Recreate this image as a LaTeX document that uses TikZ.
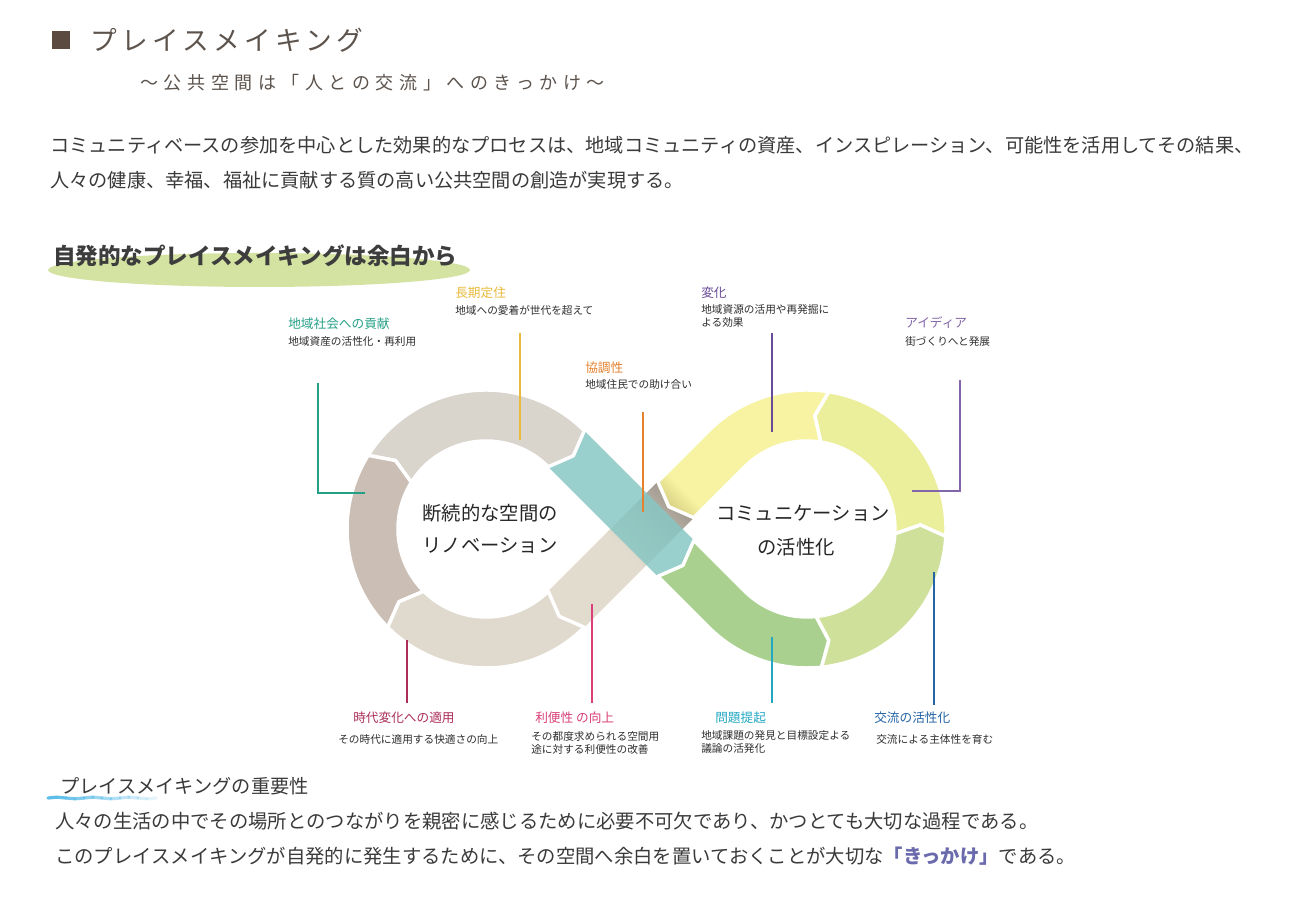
\documentclass[tikz,border=0pt]{standalone}
\usepackage{fontspec}
\setmainfont{Noto Sans CJK JP}
\usetikzlibrary{calc}

% ring geometry (px)
\newcommand{\rOut}{139}
\newcommand{\rIn}{88}
\newcommand{\rMid}{113.5}
\newcommand{\hw}{25.5}
\newcommand{\chev}{10}
\newcommand{\dA}{5.1}

\definecolor{ttlgray}{HTML}{5C534D}
\definecolor{sqbrown}{HTML}{5B4A40}
\definecolor{txtgray}{HTML}{3A3A3A}
\definecolor{subgray}{HTML}{2E2E2E}
\definecolor{headgray}{HTML}{3D3D3D}
\definecolor{ovalgreen}{HTML}{D4E2A2}
\definecolor{ringtop}{HTML}{D9D4CC}
\definecolor{ringleft}{HTML}{CBBFB5}
\definecolor{ringbot}{HTML}{E0DACE}
\definecolor{beige}{HTML}{E2DCCF}
\definecolor{beigedark}{HTML}{9E968C}
\definecolor{bandteal}{HTML}{86C6C3}
\definecolor{bandgreen}{HTML}{A9D08E}
\definecolor{ringlgreen}{HTML}{CFE09A}
\definecolor{ringygreen}{HTML}{EBEE9A}
\definecolor{bandyellow}{HTML}{F7F3A2}
\definecolor{yellowdark}{HTML}{CDC378}
\definecolor{wave}{HTML}{5BBDE8}
\definecolor{kikkake}{HTML}{6A6AAD}
\definecolor{ck1}{HTML}{24A086}
\definecolor{ck2}{HTML}{E8BB3C}
\definecolor{ck3}{HTML}{E6822E}
\definecolor{ck4}{HTML}{6A4B98}
\definecolor{ck5}{HTML}{8266AA}
\definecolor{ck6}{HTML}{AB2E5A}
\definecolor{ck7}{HTML}{DA3F78}
\definecolor{ck8}{HTML}{22A8C2}
\definecolor{ck9}{HTML}{2564A6}

\pgfdeclareverticalshading{beigeshade}{100bp}{color(0bp)=(beige); color(52bp)=(beige); color(78bp)=(beigedark); color(100bp)=(beigedark)}
\pgfdeclareverticalshading{yellowshade}{100bp}{color(0bp)=(yellowdark); color(17bp)=(yellowdark); color(27bp)=(bandyellow); color(100bp)=(bandyellow)}

\begin{document}
\begin{tikzpicture}[x=0.75pt,y=0.75pt,
    seg/.style={draw=white, line width=2.6pt, line join=round},
    ttl/.style={anchor=west, inner sep=0pt, font=\fontsize{9.5}{11}\selectfont},
    subtxt/.style={anchor=west, inner sep=0pt, align=left, text=subgray, font=\fontsize{8}{10}\selectfont},
    lead/.style={line width=1.5pt},
    body/.style={anchor=west, inner sep=0pt, text=txtgray, font=\fontsize{14.4}{17}\selectfont},
    ctr/.style={inner sep=0pt, text=black!85, font=\fontsize{14.5}{17}\selectfont}]

\useasboundingbox (0,0) rectangle (1300,924);
\fill[white] (0,0) rectangle (1300,924);

% title block
\fill[sqbrown] (52,875) rectangle (70,893);
\node[anchor=west, inner sep=0pt, text=ttlgray, font=\fontsize{20}{24}\selectfont\addfontfeature{LetterSpace=16}] (title) at (90,884) {プレイスメイキング};
\node[anchor=west, inner sep=0pt, text=ttlgray, font=\fontsize{13.5}{16}\selectfont\addfontfeature{LetterSpace=31}] (subtitle) at (140,841) {〜公共空間は「人との交流」へのきっかけ〜};

\node[body] (para1) at (50,779) {コミュニティベースの参加を中心とした効果的なプロセスは、地域コミュニティの資産、インスピレーション、可能性を活用してその結果、};
\node[body] (para2) at (50,744) {人々の健康、幸福、福祉に貢献する質の高い公共空間の創造が実現する。};

% heading on green oval
\fill[ovalgreen] (259,654) ellipse [x radius=211, y radius=17];
\node[anchor=west, inner sep=0pt, text=headgray, font=\fontsize{16.9}{20}\selectfont\bfseries] (head) at (53,668) {自発的なプレイスメイキングは余白から};

% infinity loop
\coordinate (L) at (486,395);
\coordinate (R) at (807,395);
\coordinate (P0) at ($(L)+(45:\rMid)$);
\coordinate (Q0) at ($(L)+(-45:\rMid)$);
\coordinate (J) at ($(Q0)+(45:155)$);
\coordinate (K) at ($(P0)+(-45:155)$);

\shade[shading=beigeshade, shading angle=-45]
  ($(Q0)+(-45:\hw)$) -- ($(Q0)+(225:\chev)$) -- ($(Q0)+(135:\hw)$)
  -- ($(J)+(135:\hw)$) -- ($(J)+(225:\chev)$) -- ($(J)+(-45:\hw)$) -- cycle;
\fill[bandteal, fill opacity=0.84]
  ($(P0)+(45:\hw)$) -- ($(K)+(45:\hw)$) -- ($(K)+(-45:\chev)$)
  -- ($(K)+(225:\hw)$) -- ($(P0)+(225:\hw)$) -- ($(P0)+(-45:\chev)$) -- cycle;

\fill[ringtop, seg] ($(L)+(148:\rOut)$) arc[start angle=148, end angle=45, radius=\rOut]
  -- ($(P0)+(-45:\chev)$) -- ($(L)+(45:\rIn)$) arc[start angle=45, end angle=148, radius=\rIn]
  -- ($(L)+(148-\dA:\rMid)$) -- cycle;
\fill[ringleft, seg] ($(L)+(225:\rOut)$) arc[start angle=225, end angle=148, radius=\rOut]
  -- ($(L)+(148-\dA:\rMid)$) -- ($(L)+(148:\rIn)$) arc[start angle=148, end angle=225, radius=\rIn]
  -- ($(L)+(225-\dA:\rMid)$) -- cycle;
\fill[ringbot, seg] ($(L)+(315:\rOut)$) arc[start angle=315, end angle=225, radius=\rOut]
  -- ($(L)+(225-\dA:\rMid)$) -- ($(L)+(225:\rIn)$) arc[start angle=225, end angle=315, radius=\rIn]
  -- ($(Q0)+(225:\chev)$) -- cycle;

\fill[bandgreen, seg] ($(K)+(225:\hw)$) -- ($(R)+(225:\rOut)$) arc[start angle=225, end angle=276, radius=\rOut]
  -- ($(R)+(276+\dA:\rMid)$) -- ($(R)+(276:\rIn)$) arc[start angle=276, end angle=225, radius=\rIn]
  -- ($(K)+(45:\hw)$) -- ($(K)+(-45:\chev)$) -- cycle;
\fill[ringlgreen, seg] ($(R)+(276:\rOut)$) arc[start angle=276, end angle=357, radius=\rOut]
  -- ($(R)+(357+\dA:\rMid)$) -- ($(R)+(357:\rIn)$) arc[start angle=357, end angle=276, radius=\rIn]
  -- ($(R)+(276+\dA:\rMid)$) -- cycle;
\fill[ringygreen, seg] ($(R)+(357:\rOut)$) arc[start angle=357, end angle=441, radius=\rOut]
  -- ($(R)+(441+\dA:\rMid)$) -- ($(R)+(441:\rIn)$) arc[start angle=441, end angle=357, radius=\rIn]
  -- ($(R)+(357+\dA:\rMid)$) -- cycle;
\shade[shading=yellowshade, shading angle=-45, seg] ($(R)+(81:\rOut)$) arc[start angle=81, end angle=135, radius=\rOut]
  -- ($(J)+(135:\hw)$) -- ($(J)+(225:\chev)$) -- ($(J)+(-45:\hw)$)
  -- ($(R)+(135:\rIn)$) arc[start angle=135, end angle=81, radius=\rIn]
  -- ($(R)+(81+\dA:\rMid)$) -- cycle;

\node[ctr] (lt1) at (490,411) {断続的な空間の};
\node[ctr] (lt2) at (490,378) {リノベーション};
\node[ctr] (rt1) at (803,411) {コミュニケーション};
\node[ctr] (rt2) at (796,377) {の活性化};

% callouts, upper row
\node[ttl, text=ck1] (t1) at (288,600) {地域社会への貢献};
\node[subtxt] (s1) at (288,583) {地域資産の活性化・再利用};
\coordinate (k1) at (318,541); \coordinate (k1e) at (365,431);
\draw[lead, ck1] (k1) |- (k1e);

\node[ttl, text=ck2] (t2) at (455,631) {長期定住};
\node[subtxt] (s2) at (455,614) {地域への愛着が世代を超えて};
\coordinate (k2) at (520,591); \coordinate (k2e) at (520,484);
\draw[lead, ck2] (k2) -- (k2e);

\node[ttl, text=ck3] (t3) at (585,556) {協調性};
\node[subtxt] (s3) at (585,540) {地域住民での助け合い};
\coordinate (k3) at (643,512); \coordinate (k3e) at (643,412);
\draw[lead, ck3] (k3) -- (k3e);

\node[ttl, text=ck4] (t4) at (701,631) {変化};
\node[subtxt] (s4) at (701,608) {地域資源の活用や再発掘に\\よる効果};
\coordinate (k4) at (772,591); \coordinate (k4e) at (772,492);
\draw[lead, ck4] (k4) -- (k4e);

\node[ttl, text=ck5] (t5) at (905,601) {アイディア};
\node[subtxt] (s5) at (905,583) {街づくりへと発展};
\coordinate (k5) at (960,544); \coordinate (k5e) at (912,433);
\draw[lead, ck5] (k5) |- (k5e);

% callouts, lower row
\node[ttl, text=ck6] (t6) at (353,206) {時代変化への適用};
\node[subtxt] (s6) at (338,185) {その時代に適用する快適さの向上};
\coordinate (k6) at (407,284); \coordinate (k6e) at (407,221);
\draw[lead, ck6] (k6) -- (k6e);

\node[ttl, text=ck7] (t7) at (535,206) {利便性 の向上};
\node[subtxt] (s7) at (531,181) {その都度求められる空間用\\途に対する利便性の改善};
\coordinate (k7) at (592,320); \coordinate (k7e) at (592,221);
\draw[lead, ck7] (k7) -- (k7e);

\node[ttl, text=ck8] (t8) at (715,206) {問題提起};
\node[subtxt] (s8) at (701,182) {地域課題の発見と目標設定よる\\議論の活発化};
\coordinate (k8) at (772,287); \coordinate (k8e) at (772,221);
\draw[lead, ck8] (k8) -- (k8e);

\node[ttl, text=ck9] (t9) at (874,206) {交流の活性化};
\node[subtxt] (s9) at (876,185) {交流による主体性を育む};
\coordinate (k9) at (934,352); \coordinate (k9e) at (934,219);
\draw[lead, ck9] (k9) -- (k9e);

% importance
\foreach \k in {0,...,11}
  \draw[wave, line width=2.4pt, line cap=round, opacity=1-\k/13]
    (48+\k*9,{126+0.8*sin(\k*90)}) -- (57+\k*9,{126+0.8*sin((\k+1)*90)});
\node[anchor=west, inner sep=0pt, text=txtgray, font=\fontsize{14.4}{17}\selectfont] (imp) at (60,138) {プレイスメイキングの重要性};
\node[body, font=\fontsize{14.5}{17}\selectfont] (imp1) at (55,103) {人々の生活の中でその場所とのつながりを親密に感じるために必要不可欠であり、かつとても大切な過程である。};
\node[body, font=\fontsize{14.5}{17}\selectfont] (imp2) at (55,68) {このプレイスメイキングが自発的に発生するために、その空間へ余白を置いておくことが大切な\textcolor{kikkake}{\bfseries 「きっかけ」}である。};
\end{tikzpicture}
\end{document}
